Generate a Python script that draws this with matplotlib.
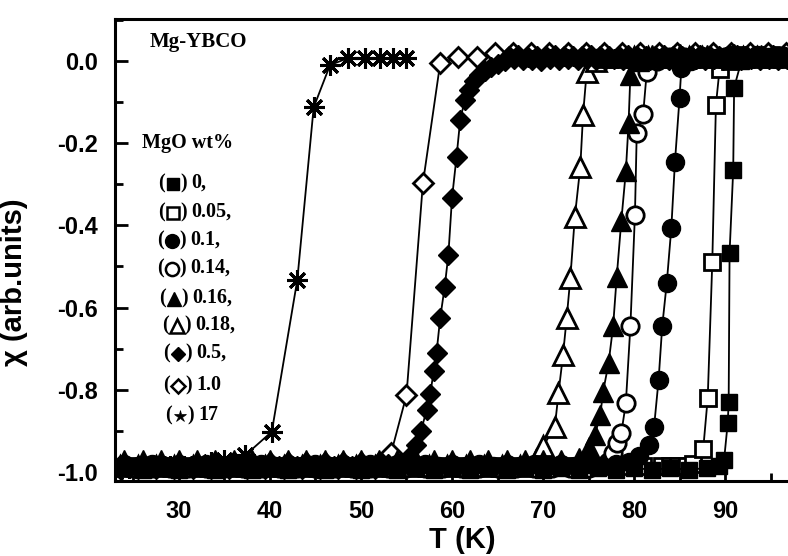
import matplotlib
matplotlib.use("Agg")
import matplotlib.pyplot as plt
from matplotlib.ticker import MultipleLocator
from matplotlib.font_manager import FontProperties

plt.rcParams['axes.unicode_minus'] = False

# ---- susceptibility curves, one per MgO content (wt%) ----
T_0 = [24, 26, 28, 30, 32, 34, 36, 38, 40, 42, 44, 46, 48, 50, 52, 54, 56, 58, 60, 62,
       64, 66, 68, 70, 72, 74, 76, 78, 80, 82, 84, 86, 88,
       89.3, 89.9, 90.3, 90.4, 90.5, 90.9, 91.0, 91.8, 93.0, 94.5, 96.0]
chi_0 = [-0.99, -0.995, -0.99, -0.995, -0.99, -0.995, -0.99, -0.995, -0.99, -0.995, -0.99,
         -0.995, -0.99, -0.995, -0.99, -0.995, -0.99, -0.995, -0.99, -0.995, -0.99, -0.995,
         -0.99, -0.995, -0.99, -0.995, -0.99, -0.995, -0.99, -0.995, -0.99, -0.995, -0.99,
         -0.985, -0.97, -0.88, -0.83, -0.467, -0.265, -0.065, 0.0, 0.01, 0.012, 0.01]

T_005 = [25, 27, 29, 31, 33, 35, 37, 39, 41, 43, 45, 47, 49, 51, 53, 55, 57, 59, 61, 63,
         65, 67, 69, 71, 73, 75, 77, 79, 81,
         83.1, 84.0, 84.8, 85.8, 86.5, 87.6, 88.1, 88.6, 89.0, 89.4, 90.5, 92.0, 93.5, 95.0, 96.5]
chi_005 = [-0.985, -0.985, -0.985, -0.985, -0.985, -0.985, -0.985, -0.985, -0.985, -0.985,
           -0.985, -0.985, -0.985, -0.985, -0.985, -0.985, -0.985, -0.985, -0.985, -0.985,
           -0.985, -0.985, -0.985, -0.985, -0.985, -0.985, -0.985, -0.985, -0.985,
           -0.985, -0.985, -0.985, -0.985, -0.98, -0.945, -0.82, -0.49, -0.107, -0.02,
           0.0, 0.015, 0.01, 0.015, 0.01]

T_01 = [24, 25.5, 27, 28.5, 30, 31.5, 33, 34.5, 36, 37.5, 39, 40.5, 42, 43.5, 45, 46.5,
        48, 49.5, 51, 52.5, 54, 55.5, 57, 58.5, 60, 61.5, 63, 64.5, 66, 67.5, 69, 70.5,
        72, 73.5, 75, 76.5, 78,
        79.5, 80.5, 81.7, 82.2, 82.7, 83.1, 83.6, 84.1, 84.5, 85.0, 85.2,
        86.3, 87.5, 89.0, 90.5, 92.0, 93.5, 95.0, 96.5]
chi_01 = [-0.98, -0.985, -0.98, -0.985, -0.98, -0.985, -0.98, -0.985, -0.98, -0.985, -0.98,
          -0.985, -0.98, -0.985, -0.98, -0.985, -0.98, -0.985, -0.98, -0.985, -0.98, -0.985,
          -0.98, -0.985, -0.98, -0.985, -0.98, -0.985, -0.98, -0.985, -0.98, -0.985, -0.98,
          -0.985, -0.98, -0.985, -0.98,
          -0.975, -0.96, -0.934, -0.891, -0.776, -0.645, -0.54, -0.406, -0.245, -0.091, -0.018,
          0.0, 0.012, 0.008, 0.015, 0.01, 0.014, 0.01, 0.012]

T_014 = [25, 27, 29, 31, 33, 35, 37, 39, 41, 43, 45, 47, 49, 51, 53, 55, 57, 59, 61, 63,
         65, 67, 69, 71, 73, 75,
         77.1, 77.7, 78.1, 78.6, 79.1, 79.6, 80.1, 80.3, 81.0, 81.4,
         82.5, 84.0, 85.5, 87.0, 88.5, 90.0, 91.5, 93.0, 94.5, 96.0]
chi_014 = [-0.99, -0.99, -0.99, -0.99, -0.99, -0.99, -0.99, -0.99, -0.99, -0.99, -0.99,
           -0.99, -0.99, -0.99, -0.99, -0.99, -0.99, -0.99, -0.99, -0.99, -0.99, -0.99,
           -0.99, -0.99, -0.99, -0.99,
           -0.975, -0.955, -0.93, -0.906, -0.833, -0.646, -0.375, -0.175, -0.13, -0.027,
           0.0, 0.01, 0.01, 0.01, 0.01, 0.01, 0.01, 0.01, 0.01, 0.01]

T_016 = [24, 26, 28, 30, 32, 34, 36, 38, 40, 42, 44, 46, 48, 50, 52, 54, 56, 58, 60, 62,
         64, 66, 68, 70, 72,
         74.0, 75.0, 75.7, 76.3, 76.6, 77.2, 77.7, 78.1, 78.6, 79.1, 79.4, 79.6,
         80.6, 82.0, 83.5, 85.0, 86.5, 88.0, 89.5, 91.0, 92.5, 94.0, 95.5]
chi_016 = [-0.97, -0.97, -0.97, -0.97, -0.97, -0.97, -0.97, -0.97, -0.97, -0.97, -0.97,
           -0.97, -0.97, -0.97, -0.97, -0.97, -0.97, -0.97, -0.97, -0.97, -0.97, -0.97,
           -0.97, -0.97, -0.97,
           -0.965, -0.94, -0.91, -0.861, -0.805, -0.736, -0.646, -0.525, -0.39, -0.269,
           -0.152, -0.034,
           0.0, 0.015, 0.01, 0.016, 0.01, 0.015, 0.01, 0.016, 0.01, 0.015, 0.01]

T_018 = [23.5, 25.5, 27.5, 29.5, 31.5, 33.5, 35.5, 37.5, 39.5, 41.5, 43.5, 45.5, 47.5,
         49.5, 51.5, 53.5, 55.5, 57.5, 59.5, 61.5, 63.5, 65.5, 67.5,
         69.2, 70.0, 71.3, 71.7, 72.2, 72.6, 73.0, 73.5, 74.1, 74.4, 74.8,
         75.8, 77.0, 78.5, 80.0, 81.5, 83.0, 84.5, 86.0, 87.5, 89.0, 90.5, 92.0, 93.5,
         95.0, 96.5]
chi_018 = [-0.985, -0.985, -0.985, -0.985, -0.985, -0.985, -0.985, -0.985, -0.985, -0.985,
           -0.985, -0.985, -0.985, -0.985, -0.985, -0.985, -0.985, -0.985, -0.985, -0.985,
           -0.985, -0.985, -0.985,
           -0.97, -0.938, -0.89, -0.809, -0.715, -0.626, -0.529, -0.379, -0.257, -0.131, -0.026,
           0.0, 0.01, 0.01, 0.01, 0.01, 0.01, 0.01, 0.01, 0.01, 0.01, 0.01, 0.01, 0.01,
           0.01, 0.01]

T_05 = [24, 25.5, 27, 28.5, 30, 31.5, 33, 34, 35, 36, 37, 38, 39, 40, 41, 42, 43, 44,
        45, 46, 47, 48, 49, 50, 51, 52, 53,
        54.2, 55.2, 56.0, 56.6, 57.2, 57.6, 58.0, 58.3, 58.7, 59.2, 59.6, 60.0, 60.5,
        60.9, 61.4, 61.9, 62.4, 63.0, 63.6, 64.3, 65.0,
        65.8, 66.3, 66.8, 67.3, 67.8, 68.3, 68.8, 69.3, 69.8, 70.3, 70.8, 71.3, 71.8,
        72.3, 72.8, 73.3, 73.8, 74.3, 74.8, 75.3, 75.8, 76.3, 76.8, 77.3, 77.8, 78.3,
        78.8, 79.3, 79.8, 80.3, 80.8, 81.3, 81.8, 82.3, 82.8, 83.3, 83.8, 84.3, 84.8,
        85.3, 85.8, 86.3, 86.8, 87.3, 87.8, 88.3, 88.8, 89.3, 89.8, 90.3, 90.8, 91.3,
        91.8, 92.3, 92.8, 93.3, 93.8, 94.3, 94.8, 95.3, 95.8, 96.3, 96.8]
chi_05 = [-0.985, -0.985, -0.985, -0.985, -0.985, -0.985, -0.985, -0.975, -0.985, -0.975,
          -0.985, -0.975, -0.985, -0.975, -0.985, -0.975, -0.985, -0.975, -0.985, -0.975,
          -0.985, -0.975, -0.985, -0.975, -0.985, -0.975, -0.98,
          -0.98, -0.965, -0.935, -0.90, -0.85, -0.81, -0.755, -0.71, -0.626, -0.549,
          -0.472, -0.334, -0.233, -0.144, -0.095, -0.07, -0.05, -0.035, -0.025, -0.015,
          -0.008,
          0.0, 0.012, 0.004, 0.014, 0.002, 0.010, 0.003, 0.013, 0.001, 0.011, 0.004,
          0.014, 0.002, 0.012, 0.005, 0.013, 0.002, 0.011, 0.004, 0.014, 0.003, 0.012,
          0.002, 0.013, 0.005, 0.011, 0.003, 0.014, 0.002, 0.012, 0.004, 0.013, 0.003,
          0.011, 0.005, 0.014, 0.002, 0.012, 0.004, 0.013, 0.003, 0.011, 0.005, 0.014,
          0.002, 0.012, 0.004, 0.013, 0.003, 0.011, 0.005, 0.014, 0.002, 0.012, 0.004,
          0.013, 0.003, 0.011, 0.005, 0.014, 0.002, 0.012, 0.004]

T_10 = [23.5, 25.5, 27.5, 29.5, 31.5, 33.5, 35.5, 37.5, 39.5, 41.5, 43.5, 45.5, 47.5,
        49.5, 51.5,
        53.3, 55.0, 56.8, 58.7, 60.7, 62.7, 64.7, 66.7, 68.7, 70.7, 72.7, 74.7, 76.7,
        78.7, 80.7, 82.7, 84.7, 86.7, 88.7, 90.7, 92.7, 94.7, 96.7]
chi_10 = [-0.99, -0.99, -0.99, -0.99, -0.99, -0.99, -0.99, -0.99, -0.99, -0.99, -0.99,
          -0.99, -0.99, -0.99, -0.99,
          -0.955, -0.813, -0.298, -0.006, 0.01, 0.01, 0.019, 0.02, 0.02, 0.02, 0.02, 0.02,
          0.02, 0.02, 0.02, 0.02, 0.02, 0.02, 0.02, 0.02, 0.02, 0.02, 0.02]

T_17 = [23.0, 24.5, 26.0, 27.5, 29.0, 30.5, 32.0, 33.5, 35.0, 37.3, 40.2, 43.0, 44.8,
        46.6, 48.6, 50.4, 52.1, 53.5, 55.0]
chi_17 = [-1.0, -0.99, -0.99, -0.99, -0.985, -0.985, -0.98, -0.975, -0.97, -0.959, -0.902,
          -0.533, -0.113, -0.010, 0.007, 0.007, 0.007, 0.007, 0.007]

legend_values = ["0,", "0.05,", "0.1,", "0.14,", "0.16,", "0.18,", "0.5,", "1.0", "17"]

y_ticks = [0.0, -0.2, -0.4, -0.6, -0.8, -1.0]
y_ticklabels = ["0.0", "-0.2", "-0.4", "-0.6", "-0.8", "-1.0"]
x_ticks = [30, 40, 50, 60, 70, 80, 90]

# ---- figure ----
W, H = 788, 556
fig = plt.figure(figsize=(W / 100, H / 100), dpi=100)
ax = fig.add_axes([115 / W, 75 / H, 673 / W, 462 / H])

asterisk = (8, 2, 0)
styles = {
    "0": dict(marker='s', ms=11.5, mfc='black', mew=1.0),
    "0.05": dict(marker='s', ms=11, mfc='white', mew=2.0),
    "0.1": dict(marker='o', ms=13, mfc='black', mew=1.0),
    "0.14": dict(marker='o', ms=12.5, mfc='white', mew=2.0),
    "0.16": dict(marker='^', ms=14, mfc='black', mew=1.0),
    "0.18": dict(marker='^', ms=14, mfc='white', mew=2.0),
    "0.5": dict(marker='D', ms=10, mfc='black', mew=1.0),
    "1.0": dict(marker='D', ms=10, mfc='white', mew=2.0),
    "17": dict(marker=asterisk, ms=15, mew=2.2),
}
# open symbols first, filled ones on top
series = [
    ("0.05", T_005, chi_005), ("0.14", T_014, chi_014), ("0.18", T_018, chi_018),
    ("1.0", T_10, chi_10), ("17", T_17, chi_17), ("0.5", T_05, chi_05),
    ("0.16", T_016, chi_016), ("0.1", T_01, chi_01), ("0", T_0, chi_0),
]
for key, T, chi in series:
    ax.plot(T, chi, color='black', mec='black', lw=1.3, **styles[key])

ax.set_xlim(22.97, 96.92)
ax.set_ylim(-1.022, 0.102)

ax.spines['right'].set_visible(False)
for side in ('left', 'bottom', 'top'):
    ax.spines[side].set_linewidth(2.2)

ax.set_yticks(y_ticks)
ax.set_yticklabels(y_ticklabels)
ax.yaxis.set_minor_locator(MultipleLocator(0.1))
ax.set_xticks(x_ticks)
ax.xaxis.set_minor_locator(MultipleLocator(5))
ax.tick_params(axis='both', which='major', direction='in', length=9, width=2)
ax.tick_params(axis='both', which='minor', direction='in', length=6, width=2)
ax.tick_params(axis='y', which='major', pad=12)
ax.tick_params(axis='x', which='major', pad=14)
ax.tick_params(top=False, right=False, which='both')

tick_fp = FontProperties(family='Liberation Sans', weight='bold', size=17)
for lab in ax.get_xticklabels() + ax.get_yticklabels():
    lab.set_fontproperties(tick_fp)

ax.set_xlabel("T (K)", family='Liberation Sans', weight='bold', size=21, va='baseline')
ax.set_ylabel("\u03C7 (arb.units)", family='Liberation Sans', weight='bold', size=21)
ax.xaxis.set_label_coords((462 - 115) / 673, (481 - 548) / 462)
ax.yaxis.set_label_coords((28 - 115) / 673, (481 - 282) / 462)

serif = ['Liberation Serif', 'DejaVu Serif', 'DejaVu Sans']


def ax_xy(px, py):
    """Pixel position in the figure -> axes fraction."""
    return (px - 115) / 673, (481 - py) / 462


ax.text(*ax_xy(150, 42), "Mg-YBCO", transform=ax.transAxes,
        family=serif, weight='bold', size=15, ha='left', va='center')
ax.text(*ax_xy(142, 143), "MgO wt%", transform=ax.transAxes,
        family=serif, weight='bold', size=14.5, ha='left', va='center')

# key: "(symbol) value" with the symbol drawn as the plot marker
legend_keys = ["0", "0.05", "0.1", "0.14", "0.16", "0.18", "0.5", "1.0", "17"]
legend_ms = {"0": 9, "0.05": 8.5, "0.1": 10, "0.14": 9.5, "0.16": 10.5, "0.18": 10.5,
             "0.5": 7, "1.0": 7, "17": 9}
entry_y = [183, 212, 240, 268, 298, 325, 353, 385, 415]
entry_x = [158, 158, 157, 157, 159, 162, 163, 163, 165]
for key, val, ex, ey in zip(legend_keys, legend_values, entry_x, entry_y):
    ax.text(*ax_xy(ex, ey), "(", transform=ax.transAxes,
            family=serif, weight='bold', size=14.5, ha='left', va='center')
    st = dict(styles[key])
    st['ms'] = legend_ms[key]
    if key == "17":
        st = dict(marker='*', ms=9, mew=0.5)
    else:
        st['mew'] = min(st['mew'], 1.8)
    mx, my = ax_xy(ex + 15, ey + 1)
    ax.plot([mx], [my], transform=ax.transAxes, clip_on=False,
            color='black', mec='black', ls='none', **st)
    ax.text(*ax_xy(ex + 22, ey), ")", transform=ax.transAxes,
            family=serif, weight='bold', size=14.5, ha='left', va='center')
    ax.text(*ax_xy(ex + 33, ey), val, transform=ax.transAxes,
            family=serif, weight='bold', size=14.5, ha='left', va='center')

fig.savefig("out.png", dpi=100)
